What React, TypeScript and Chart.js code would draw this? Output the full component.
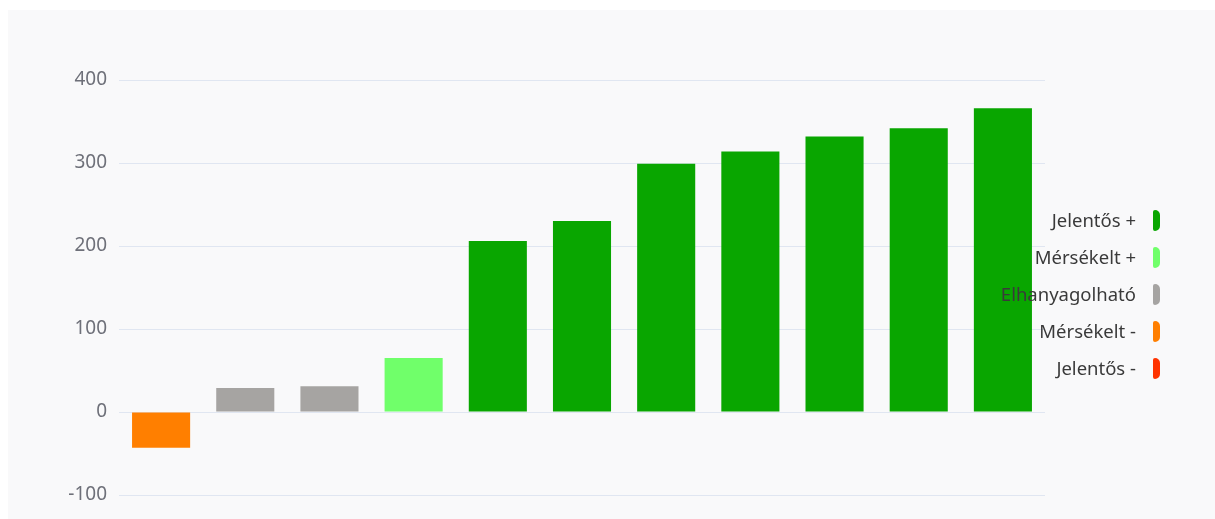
import React, { useEffect, useRef } from "react";
import { Chart, registerables } from "chart.js";

Chart.register(...registerables);

const categories = ["1", "2", "3", "4", "5", "6", "7", "8", "9", "10", "11"];
const values = [-43, 29, 31, 65, 206, 230, 299, 314, 332, 342, 366];
const barColors = [
  "#ff7f00",
  "#a6a4a2",
  "#a6a4a2",
  "#70ff6a",
  "#09a600",
  "#09a600",
  "#09a600",
  "#09a600",
  "#09a600",
  "#09a600",
  "#09a600",
];
const legendLabels = ["Jelentős +", "Mérsékelt +", "Elhanyagolható", "Mérsékelt -", "Jelentős -"];
const legendColors = ["#09a600", "#70ff6a", "#a6a4a2", "#ff7f00", "#ff3300"];
const yTicks = [-100, 0, 100, 200, 300, 400];

export default function App() {
  const ref = useRef<HTMLCanvasElement | null>(null);

  useEffect(() => {
    if (!ref.current) return;
    const chart = new Chart(ref.current, {
      type: "bar",
      data: {
        labels: categories,
        datasets: [
          {
            data: values,
            backgroundColor: barColors,
            categoryPercentage: 1,
            barPercentage: 0.69,
          },
        ],
      },
      options: {
        animation: false,
        responsive: false,
        maintainAspectRatio: false,
        layout: { padding: { left: 0, right: 170, top: 70, bottom: 24 } },
        plugins: { legend: { display: false }, tooltip: { enabled: false } },
        scales: {
          x: { display: false },
          y: {
            min: yTicks[0],
            max: yTicks[yTicks.length - 1],
            afterFit: (s: any) => {
              s.width = 111;
            },
            afterBuildTicks: (s: any) => {
              s.ticks = yTicks.map((v) => ({ value: v }));
            },
            border: { display: false },
            grid: { color: "#e0e6f1", drawTicks: false, lineWidth: 1 },
            ticks: {
              color: "#6e7079",
              padding: 12,
              font: { family: "Noto Sans", size: 19 },
            },
          },
        },
      },
    });
    return () => chart.destroy();
  }, []);

  return (
    <div
      style={{
        position: "fixed",
        left: 8,
        top: 10,
        right: 0,
        bottom: 0,
        background: "#f9f9fa",
        overflow: "hidden",
      }}
    >
      <canvas ref={ref} width={1207} height={509} style={{ display: "block" }} />
      {legendLabels.map((label, i) => (
        <div
          key={label}
          style={{
            position: "absolute",
            right: 1207 - 1128,
            top: 198 + i * 37,
            height: 24,
            lineHeight: "24px",
            fontFamily: "Noto Sans",
            fontSize: 18.5,
            color: "#3a3a3a",
            whiteSpace: "nowrap",
            textAlign: "right",
          }}
        >
          {label}
        </div>
      ))}
      {legendColors.map((c, i) => (
        <div
          key={c}
          style={{
            position: "absolute",
            left: 1153 - 8,
            top: 210 - 10 + i * 37,
            width: 7,
            height: 21,
            background: c,
            borderRadius: "2px 5px 5px 2px",
          }}
        />
      ))}
    </div>
  );
}
